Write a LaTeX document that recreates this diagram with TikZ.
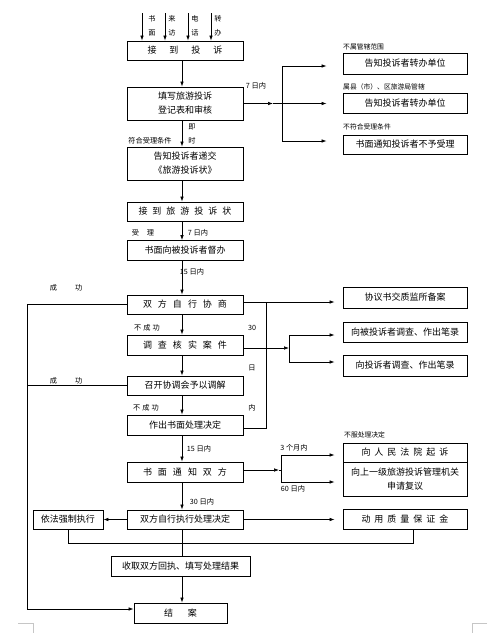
\documentclass[tikz,border=0pt]{standalone}
\usepackage{fontspec}
\setmainfont{Noto Sans CJK SC}
\usetikzlibrary{arrows.meta,calc}
\begin{document}
\begin{tikzpicture}[x=1pt,y=-1pt,
  box/.style={draw, line width=0.8pt, inner sep=0pt, minimum width=116pt, font=\fontsize{9}{14}\selectfont, align=center},
  rbox/.style={box, minimum width=124pt},
  lbl/.style={font=\fontsize{7.2}{8}\selectfont, inner sep=0pt},
  slbl/.style={font=\fontsize{6.8}{7}\selectfont, inner sep=0pt, anchor=west},
  arr/.style={-{Latex[length=5pt,width=3.6pt]}},
  ln/.style={line width=0.7pt}]
\useasboundingbox (0,0) rectangle (500,633);
% main column
\node[box, minimum height=19pt] (b1) at (185,50.5) {接\hspace{13pt}到\hspace{13pt}投\hspace{13pt}诉};
\node[box, minimum height=33pt] (b2) at (185,103.5) {填写旅游投诉\\登记表和审核};
\node[box, minimum height=33pt] (b3) at (185,163.5) {告知投诉者递交\\《旅游投诉状》};
\node[box, minimum height=19pt] (b4) at (185,211.5) {接\hspace{5pt}到\hspace{5pt}旅\hspace{5pt}游\hspace{5pt}投\hspace{5pt}诉\hspace{5pt}状};
\node[box, minimum height=20pt] (b5) at (185,250.5) {书面向被投诉者督办};
\node[box, minimum height=19pt] (b6) at (185,304.5) {双\hspace{6pt}方\hspace{6pt}自\hspace{6pt}行\hspace{6pt}协\hspace{6pt}商};
\node[box, minimum height=20pt] (b7) at (185,345) {调\hspace{6pt}查\hspace{6pt}核\hspace{6pt}实\hspace{6pt}案\hspace{6pt}件};
\node[box, minimum height=19pt] (b8) at (185,385.5) {召开协调会予以调解};
\node[box, minimum height=20pt] (b9) at (185,425) {作出书面处理决定};
\node[box, minimum height=20pt] (b10) at (185,472) {书\hspace{6pt}面\hspace{6pt}通\hspace{6pt}知\hspace{6pt}双\hspace{6pt}方};
\node[box, minimum height=19pt] (b11) at (185,519.5) {双方自行执行处理决定};
\node[box, minimum height=20pt, minimum width=139pt] (b12) at (180.5,566) {收取双方回执、填写处理结果};
\node[box, minimum height=20pt, minimum width=93pt] (b13) at (180.5,613) {结\hspace{15pt}案};
\node[box, minimum height=19pt, minimum width=70pt] (bexec) at (68,519.5) {依法强制执行};
% right column
\node[rbox, minimum height=21pt] (rA) at (405,63.5) {告知投诉者转办单位};
\node[rbox, minimum height=20pt] (rB) at (405,103.5) {告知投诉者转办单位};
\node[rbox, minimum height=19pt] (rC) at (405,144.5) {书面通知投诉者不予受理};
\node[rbox, minimum height=21pt] (rD) at (405,297.5) {协议书交质监所备案};
\node[rbox, minimum height=20pt] (rE) at (405,332) {向被投诉者调查、作出笔录};
\node[rbox, minimum height=21pt] (rF) at (405,365.5) {向投诉者调查、作出笔录};
\node[rbox, minimum height=19pt] (rG1) at (405,452.5) {向\hspace{4pt}人\hspace{4pt}民\hspace{4pt}法\hspace{4pt}院\hspace{4pt}起\hspace{4pt}诉};
\node[rbox, minimum height=34pt] (rG2) at (405,479) {向上一级旅游投诉管理机关\\申请复议};
\node[rbox, minimum height=20pt] (rH) at (405,519) {动\hspace{4pt}用\hspace{4pt}质\hspace{4pt}量\hspace{4pt}保\hspace{4pt}证\hspace{4pt}金};
% spine
\coordinate (sp) at (182,0);
\foreach \a/\b in {b1/b2,b2/b3,b3/b4,b4/b5,b5/b6,b6/b7,b7/b8,b8/b9,b9/b10,b10/b11,b12/b13}
  \draw[ln,arr] (\a.south -| sp) -- (\b.north -| sp);
\draw[ln] (b11.south -| sp) -- (b12.north -| sp);
% inputs
\foreach \n/\x in {i1/142,i2/165,i3/188,i4/211}{
  \coordinate (\n) at (\x,13);
  \draw[ln,arr] (\n) -- (\n |- b1.north);
}
\node[lbl] (t1a) at (152,19) {书};
\node[lbl] (t1b) at (152,33) {面};
\node[lbl] (t2a) at (172,19) {来};
\node[lbl] (t2b) at (172,33) {访};
\node[lbl] (t3a) at (195,19) {电};
\node[lbl] (t3b) at (195,33) {话};
\node[lbl] (t4a) at (218,19) {转};
\node[lbl] (t4b) at (218,33) {办};
% branch 1
\coordinate (j1) at (282,103.5);
\coordinate (h1) at (273,103.5);
\coordinate (j1a) at (282,66);
\coordinate (j1c) at (282,141);
\draw[ln,arr] (b2.east) -- (h1);
\draw[ln] (h1) -- (j1);
\draw[ln] (j1a) -- (j1c);
\draw[ln,arr,shorten >=16pt] (j1a) -- (j1a -| rA.west);
\draw[ln,arr,shorten >=16pt] (j1) -- (j1 -| rB.west);
\draw[ln,arr,shorten >=16pt] (j1c) -- (j1c -| rC.west);
\node[lbl] (l7a) at (256,86) {7 日内};
\node[slbl] (lA) at (343,47) {不属管辖范围};
\node[slbl] (lB) at (343,87) {属县（市）、区旅游局管辖};
\node[slbl] (lC) at (343,127) {不符合受理条件};
\node[lbl] (lji) at (192,127) {即};
\node[lbl] (lshi) at (192,141) {时};
\node[lbl] (lfh) at (150,141) {符合受理条件};
\node[lbl] (lsl) at (143,233) {受\hspace{8pt}理};
\node[lbl] (l7b) at (198,233) {7 日内};
\node[lbl] (l15a) at (192,272) {15 日内};
% left return line
\coordinate (L1) at (27,304.5);
\coordinate (L2) at (27,609);
\draw[ln,arr] (b6.west) -- (L1) -- (L2) -- (L2 -| b13.west);
\draw[ln] (b8.west) -- (b8.west -| L1);
\node[lbl] (lcg1) at (66,288) {成\hspace{18pt}功};
\node[lbl] (lcg2) at (66,381) {成\hspace{18pt}功};
\node[lbl] (lbcg1) at (147,328) {不\hspace{2pt}成\hspace{2pt}功};
\node[lbl] (lbcg2) at (146,408) {不\hspace{2pt}成\hspace{2pt}功};
% branch to 协议书 and 30 日内
\coordinate (k6) at (266,302);
\coordinate (k9) at (266,428);
\draw[ln,arr,shorten >=8pt] (b6.east |- k6) -- (k6 -| rD.west);
\draw[ln] (k6) -- (k9) -- (k9 -| b9.east);
\node[lbl] (l30) at (252,328) {30};
\node[lbl] (lri) at (252,368) {日};
\node[lbl] (lnei) at (252,408) {内};
% branch 2
\coordinate (j2) at (289,348);
\coordinate (j2a) at (289,335);
\coordinate (j2b) at (289,362);
\draw[ln,arr] (b7.east |- j2) -- (j2);
\draw[ln] (j2a) -- (j2b);
\draw[ln,arr,shorten >=8pt] (j2a) -- (j2a -| rE.west);
\draw[ln,arr,shorten >=8pt] (j2b) -- (j2b -| rF.west);
% branch 3
\coordinate (j3) at (281,470);
\coordinate (h3) at (279,470);
\coordinate (j3a) at (281,455);
\coordinate (j3b) at (281,482);
\draw[ln,arr] (b10.east |- j3) -- (h3);
\draw[ln] (h3) -- (j3);
\draw[ln] (j3a) -- (j3b);
\draw[ln,arr,shorten >=8pt] (j3a) -- (j3a -| rG1.west);
\draw[ln,arr,shorten >=8pt] (j3b) -- (j3b -| rG2.west);
\node[slbl] (lbf) at (344,435) {不服处理决定};
\node[lbl] (l15b) at (199,449) {15 日内};
\node[lbl] (l3m) at (294,448) {3 个月内};
\node[lbl] (l60) at (293,489) {60 日内};
\node[lbl] (l30b) at (202,502) {30 日内};
% bottom
\draw[ln,arr] (b11.west) -- (bexec.east);
\draw[ln,arr,shorten >=8pt] (b11.east) -- (b11.east -| rH.west);
\coordinate (q1) at (413,543);
\draw[ln] (q1 |- rH.south) -- (q1) -- (q1 -| bexec.south) -- (bexec.south);
% page corner marks
\draw[gray!45] (18,623) -- (33,623) -- (33,633);
\draw[gray!45] (487,623) -- (472,623) -- (472,633);
\end{tikzpicture}
\end{document}
